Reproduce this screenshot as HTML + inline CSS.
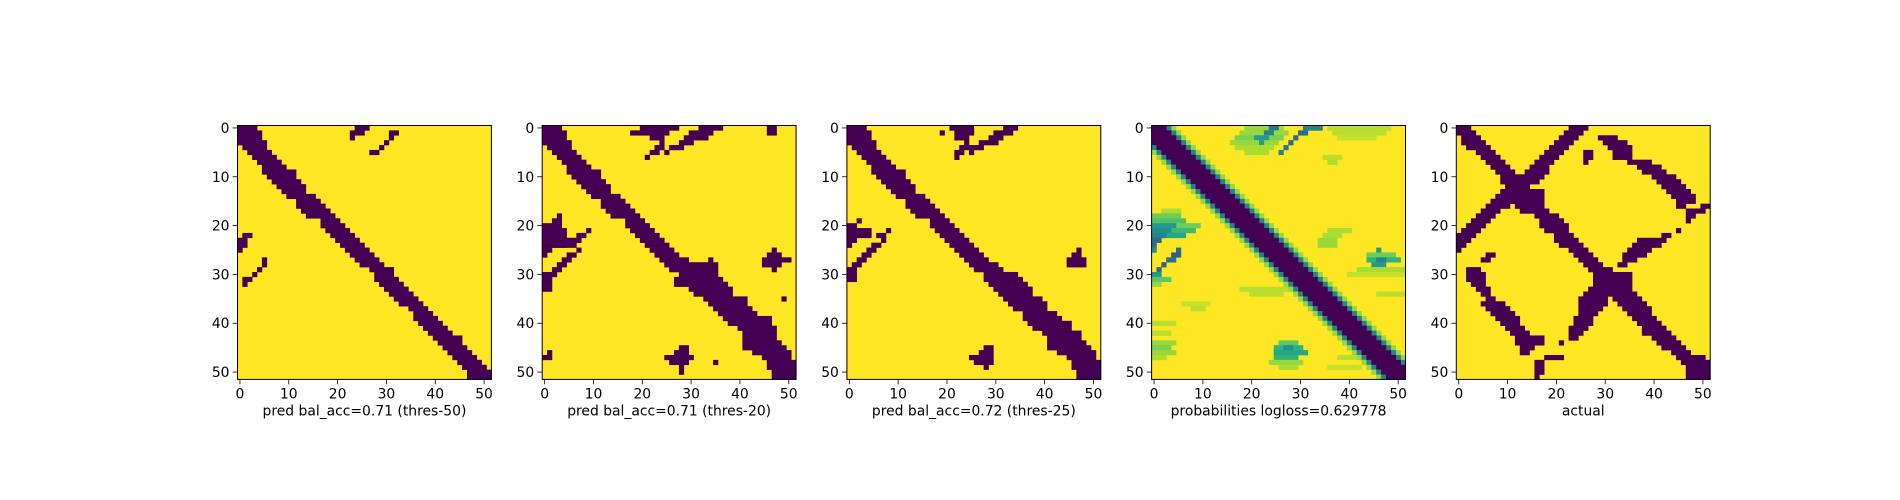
<!DOCTYPE html>
<html><head><meta charset="utf-8"><style>
html,body{margin:0;padding:0;background:#fff;}
svg{display:block;font-family:"DejaVu Sans","Liberation Sans",sans-serif;}
</style></head>
<body>
<svg id="fig" width="1900" height="500" viewBox="0 0 1900 500" xmlns="http://www.w3.org/2000/svg"></svg>
<script>
// ---- data ----
const nCells = 52;
const tickValues = [0, 10, 20, 30, 40, 50];
const panelTitles = ["pred bal_acc=0.71 (thres-50)", "pred bal_acc=0.71 (thres-20)", "pred bal_acc=0.72 (thres-25)", "probabilities logloss=0.629778", "actual"];
// dark runs [row, colStart, colEnd]
const p1Runs = [[0,0,3],[1,0,4],[2,0,4],[3,0,5],[4,1,5],[5,2,6],[6,3,7],[7,4,8],[8,5,9],[9,5,11],[10,6,11],[11,7,12],[12,8,13],[13,9,13],[14,10,15],[15,12,16],[16,12,17],[17,13,18],[18,14,19],[19,17,20],[20,17,21],[21,18,22],[22,19,23],[23,20,24],[24,21,25],[25,22,26],[26,23,27],[27,24,28],[28,25,29],[29,27,31],[30,28,31],[31,28,32],[32,29,33],[33,30,34],[34,31,35],[35,32,36],[36,33,37],[37,35,38],[38,36,39],[39,36,40],[40,37,41],[41,38,42],[42,39,43],[43,40,45],[44,41,45],[45,42,46],[46,43,47],[47,44,48],[48,45,49],[49,46,50],[50,47,51],[51,47,51],
[0,24,26],[1,23,25],[1,31,32],[2,23,23],[2,31,31],[3,30,30],[4,29,29],[5,27,28],
[22,1,2],[23,0,1],[24,0,1],[25,0,0],[27,5,5],[28,5,5],[29,4,4],[30,3,3],[31,1,2],[32,1,1]];
const p2Runs = [[0,0,3],[1,0,4],[2,0,4],[3,0,5],[4,1,5],[5,2,6],[6,3,7],[7,4,8],[8,5,9],[9,5,11],[10,6,11],[11,7,12],[12,8,13],[13,9,13],[14,10,15],[15,12,16],[16,12,17],[17,13,18],[18,14,19],[19,17,20],[20,17,21],[21,18,22],[22,19,23],[23,20,24],[24,21,25],[25,22,26],[26,23,27],[27,24,29],[27,34,34],[28,25,35],[29,26,35],[30,28,35],[31,27,36],[32,27,37],[33,30,38],[34,31,38],[35,33,41],[36,34,41],[37,35,42],[38,36,43],[39,37,46],[40,38,46],[41,40,47],[42,41,47],[43,41,47],[44,41,48],[45,41,49],[46,43,50],[47,45,50],[48,46,51],[49,46,51],[50,47,51],[51,47,51],
[0,20,27],[0,32,36],[0,46,47],[1,18,25],[1,30,34],[1,46,47],[2,22,24],[2,29,33],[3,24,24],[3,28,30],[4,23,24],[4,26,28],[5,22,23],[5,25,25],[6,21,21],
[18,3,3],[19,2,3],[20,0,3],[21,0,4],[21,9,9],[22,0,4],[22,7,8],[23,0,5],[23,6,7],[24,0,4],[24,2,6],[25,0,1],[25,7,7],[26,0,0],[26,5,6],[27,4,5],[28,3,4],[29,2,3],[30,0,2],[31,0,1],[32,0,1],[33,0,1],
[25,47,47],[26,46,48],[27,45,50],[28,45,48],[29,47,47],[35,49,49],
[45,28,29],[46,27,29],[47,25,30],[48,26,29],[49,28,28],[50,28,28],[48,35,35],[46,1,1],[47,0,1]];
const p3Runs = [[0,0,3],[1,0,4],[2,0,4],[3,0,5],[4,1,5],[5,2,6],[6,3,7],[7,4,8],[8,5,9],[9,5,11],[10,6,11],[11,7,12],[12,8,13],[13,9,13],[14,10,15],[15,12,16],[16,12,17],[17,13,18],[18,14,19],[19,17,20],[20,17,21],[21,18,22],[22,19,23],[23,20,24],[24,21,25],[25,22,26],[26,23,27],[27,24,28],[28,25,30],[29,26,31],[30,28,34],[31,28,35],[32,29,36],[33,30,37],[34,31,37],[35,32,39],[36,33,40],[37,34,40],[38,36,42],[39,36,43],[40,37,45],[41,38,45],[42,40,47],[43,41,47],[44,41,48],[45,41,49],[46,43,50],[47,45,50],[48,46,51],[49,46,51],[50,47,51],[51,47,51],
[0,21,25],[0,32,34],[1,19,19],[1,22,25],[1,30,33],[2,22,24],[2,29,31],[3,24,24],[3,27,30],[4,23,24],[4,25,27],[5,22,23],[5,25,25],[6,22,22],
[19,2,2],[20,0,1],[21,0,4],[21,8,8],[22,0,4],[22,6,7],[23,0,1],[23,7,7],[24,0,0],[24,5,6],[25,4,5],[26,3,4],[27,2,3],[28,1,2],[29,0,1],[30,0,1],[31,0,1],
[25,47,47],[26,46,47],[27,45,48],[28,45,48],
[45,28,29],[46,27,29],[47,25,29],[48,26,29],[49,28,28]];
// probability panel: diagonal band + soft regions [row, colStart, colEnd, value]
const p4BandStart = [0,0,0,0,1,2,3,4,5,6,7,8,9,10,11,12,13,14,15,16,17,18,19,20,21,22,23,24,25,26,27,28,29,30,31,32,33,34,35,36,37,38,39,40,41,42,43,44,45,46,47,48];
const p4BandEnd = [2,3,4,5,6,7,8,9,10,11,12,13,14,15,16,17,18,19,20,21,22,23,24,25,26,27,28,29,30,31,32,33,34,35,36,37,38,39,40,41,42,43,44,45,46,47,48,49,50,51,51,51];
const p4Soft = [[0,19,26,0.85],[0,24,25,0.4],[1,18,27,0.85],[1,23,24,0.45],[2,17,26,0.8],[2,21,23,0.55],[3,16,25,0.85],[3,22,22,0.55],[4,17,24,0.88],[5,19,23,0.88],
[0,36,48,0.9],[1,37,47,0.9],[2,38,45,0.92],[6,35,38,0.9],[7,36,37,0.88],
[0,31,34,0.45],[1,30,31,0.35],[2,29,29,0.35],[3,28,28,0.35],[4,27,27,0.4],[5,26,26,0.45],
[17,2,5,0.88],[18,0,5,0.78],[19,0,6,0.72],[20,0,9,0.78],[20,0,4,0.55],[21,0,8,0.68],[21,0,3,0.5],[22,0,6,0.6],[22,0,2,0.45],[23,0,1,0.35],[24,0,0,0.35],[25,0,0,0.5],
[25,5,5,0.35],[26,4,5,0.3],[27,3,4,0.35],[28,2,2,0.3],[29,1,1,0.35],[30,0,1,0.55],[31,0,3,0.75],[32,0,1,0.85],
[25,46,46,0.55],[26,44,49,0.78],[27,44,50,0.65],[27,46,47,0.45],[28,45,47,0.55],[29,42,51,0.88],
[21,36,40,0.88],[22,35,38,0.88],[23,34,37,0.85],[24,34,37,0.85],[30,40,51,0.92],[34,46,51,0.9],
[33,18,28,0.9],[34,20,26,0.9],[36,6,11,0.92],[37,8,10,0.9],
[44,26,29,0.75],[45,25,30,0.65],[45,27,28,0.5],[46,25,31,0.6],[47,25,29,0.65],[48,24,30,0.85],[49,26,29,0.88],
[40,0,4,0.9],[42,0,3,0.9],[44,0,4,0.85],[45,0,3,0.8],[46,0,4,0.85],[47,0,2,0.88],
[45,40,45,0.9],[47,38,44,0.9],[49,36,42,0.92]];
const p5Runs = [[0,0,2],[1,0,3],[2,1,4],[3,1,5],[4,2,6],[5,4,7],[6,5,8],[7,6,9],[8,7,10],[9,8,11],[10,9,12],[11,9,13],[12,10,14],[13,11,17],[14,11,17],[15,11,17],[16,12,17],[17,13,18],[18,16,20],[19,17,21],[20,17,22],[21,18,22],[22,20,23],[23,20,24],[24,21,25],[25,23,26],[26,24,27],[27,25,28],[28,26,29],[29,27,31],[30,28,35],[31,28,35],[32,28,35],[33,30,35],[34,31,36],[35,32,37],[36,33,38],[37,34,39],[38,35,39],[39,36,40],[40,37,41],[41,38,42],[42,38,43],[43,40,44],[44,41,45],[45,42,46],[46,44,47],[47,45,50],[48,46,51],[49,47,51],[50,47,51],[51,47,51],
[0,23,26],[1,22,25],[2,21,24],[3,20,23],[4,19,22],[5,18,21],[6,17,20],[7,16,19],[8,15,18],[9,14,18],[10,13,17],[11,12,16],[12,11,14],[13,9,13],[14,8,12],[15,7,11],[16,6,10],[17,5,8],[18,4,7],[19,3,6],[20,2,5],[21,1,4],[22,0,3],[23,0,2],[24,0,1],[25,0,0],
[16,50,51],[17,47,50],[18,47,48],[19,47,47],[21,45,45],[22,42,43],[23,37,42],[24,36,41],[25,35,39],[26,34,38],[27,34,36],[28,33,34],[33,27,31],[34,26,30],[35,25,30],[36,25,30],[37,25,29],[38,25,28],[39,24,27],[40,24,27],[41,23,26],[42,23,25],[43,23,24],[44,21,21],
[2,29,32],[3,30,34],[4,31,35],[5,32,35],[6,32,35],[7,35,39],[8,37,41],[9,38,42],[10,40,44],[11,41,45],[12,42,46],[13,43,47],[14,44,48],[15,45,48],[16,45,46],[5,26,27],[6,26,27],[7,26,26],
[26,6,7],[27,5,6],[29,2,4],[30,2,5],[31,2,5],[32,3,5],[33,4,6],[34,5,6],[35,6,7],[36,5,9],[37,6,10],[38,7,11],[39,8,12],[40,9,12],[41,10,13],[42,11,14],[43,12,17],[44,12,17],[45,13,15],[46,13,14],[47,18,21],[48,16,17],[49,16,17],[50,16,17],[51,16,16]];

// ---- layout ----
const panelLefts = [237.5, 542.2, 846.9, 1151.6, 1456.3];
const axTop = 125.5, axSize = 253.9;
const NS = "http://www.w3.org/2000/svg";
const svg = document.getElementById("fig");
function mk(tag, attrs, parent) {
  const e = document.createElementNS(NS, tag);
  for (const k in attrs) e.setAttribute(k, attrs[k]);
  (parent || svg).appendChild(e);
  return e;
}
const vStops = [[0,[68,1,84]],[0.13,[71,44,122]],[0.25,[59,81,139]],[0.38,[44,113,142]],[0.5,[33,144,141]],[0.63,[39,173,129]],[0.75,[92,200,99]],[0.88,[170,220,50]],[1,[253,231,37]]];
function viridis(v) {
  v = Math.max(0, Math.min(1, v));
  for (let i = 1; i < vStops.length; i++) {
    if (v <= vStops[i][0]) {
      const a = vStops[i-1], b = vStops[i], t = (v - a[0]) / (b[0] - a[0]);
      const c = a[1].map((x, j) => Math.round(x + (b[1][j] - x) * t));
      return "rgb(" + c.join(",") + ")";
    }
  }
  return "rgb(253,231,37)";
}

function drawPanel(pi, runs) {
  const left = panelLefts[pi];
  const cs = axSize / nCells;
  const xs = c => left + c * cs;
  const ys = r => axTop + r * cs;
  const g = mk("g", {});
  
  
  const bg = mk("rect", {x: left, y: axTop, width: axSize, height: axSize, fill: viridis(1)}, g);
  
  
  runs.forEach(rn => {
    const v = rn.length > 3 ? rn[3] : 0;
    const c0 = Math.max(0, rn[1]), c1 = Math.min(nCells - 1, rn[2]);
    if (c1 < c0) return;
    const r = mk("rect", {x: xs(c0), y: ys(rn[0]), width: (c1 - c0 + 1) * cs + 0.3, height: cs + 0.3, fill: viridis(v)}, g);
    
    
  });
  const frame = mk("rect", {x: left, y: axTop, width: axSize, height: axSize, fill: "none", stroke: "#000", "stroke-width": 1}, g);
  
  
  tickValues.forEach(t => {
    const px = xs(t + 0.5), py = ys(t + 0.5);
    const tx = mk("line", {x1: px, y1: axTop + axSize, x2: px, y2: axTop + axSize + 4.9, stroke: "#000", "stroke-width": 0.8}, g);
    
    
    const lx = mk("text", {x: px, y: axTop + axSize + 19, "font-size": 13.9, "text-anchor": "middle", fill: "#000"}, g);
    lx.textContent = t;
    
    
    const ty = mk("line", {x1: left - 4.9, y1: py, x2: left, y2: py, stroke: "#000", "stroke-width": 0.8}, g);
    
    
    const ly = mk("text", {x: left - 8, y: py + 5, "font-size": 13.9, "text-anchor": "end", fill: "#000"}, g);
    ly.textContent = t;
    
    
  });
  const title = mk("text", {x: left + axSize / 2, y: axTop + axSize + 36, "font-size": 13.9, "text-anchor": "middle", fill: "#000"}, g);
  title.textContent = panelTitles[pi];
  
  
}

// build probability runs from band arrays + soft regions
const p4Runs = p4Soft.slice();
p4BandStart.forEach((s, r) => {
  const e = p4BandEnd[r];
  p4Runs.push([r, s - 2, s - 2, 0.85]);
  p4Runs.push([r, e + 2, e + 2, 0.85]);
  p4Runs.push([r, s - 1, s - 1, 0.45]);
  p4Runs.push([r, e + 1, e + 1, 0.45]);
  p4Runs.push([r, s, e, 0.0]);
});

drawPanel(0, p1Runs);
drawPanel(1, p2Runs);
drawPanel(2, p3Runs);
drawPanel(3, p4Runs);
drawPanel(4, p5Runs);
</script>
</body></html>
